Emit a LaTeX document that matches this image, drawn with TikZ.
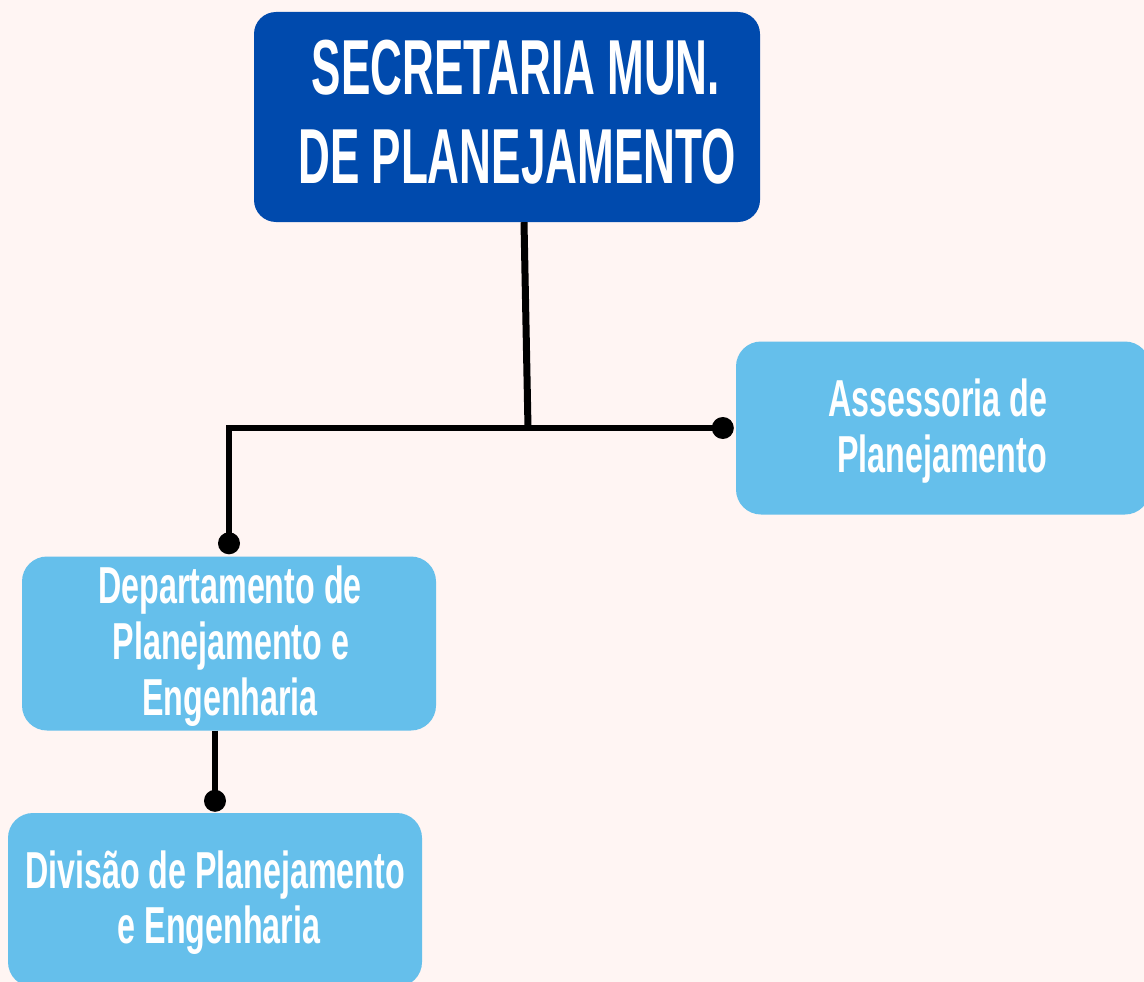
\documentclass[tikz,border=0pt]{standalone}
\usepackage{fontspec}
\newfontfamily\bigcond[FakeStretch=0.565]{Liberation Sans}
\newfontfamily\smallcond[FakeStretch=0.62]{Liberation Sans}
\definecolor{bgpink}{HTML}{FFF5F3}
\definecolor{darkblue}{HTML}{004AAD}
\definecolor{lightblue}{HTML}{65BFEB}
\tikzset{
  darkbox/.style={draw=none, fill=darkblue, rounded corners=22pt, rectangle, inner sep=0pt},
  lightbox/.style={draw=none, fill=lightblue, rounded corners=25pt, rectangle, inner sep=0pt, minimum width=414pt, minimum height=174pt},
  bigtext/.style={anchor=base, inner sep=0pt, text=white, font=\bigcond\bfseries\fontsize{78}{85}\selectfont},
  smalltext/.style={anchor=base, inner sep=0pt, text=white, font=\smallcond\bfseries\fontsize{52}{56}\selectfont},
  conn/.style={draw=black, line width=6pt},
  dotfill/.style={fill=black}
}
\begin{document}
\begin{tikzpicture}[x=1pt,y=-1pt]
\fill[bgpink] (0,0) rectangle (1144,982);
\useasboundingbox (0,0) rectangle (1144,982);

% boxes
\node[darkbox, minimum width=506pt, minimum height=210pt] (sec) at (507,117) {};
\node[lightbox, minimum height=173pt] (ass) at (943,428) {};
\node[lightbox] (dep) at (229,643.5) {};
\node[lightbox] (div) at (215,900) {};

% texts
\node[bigtext] (sec1) at (516,95) {SECRETARIA MUN.};
\node[bigtext] (sec2) at (517,183) {DE PLANEJAMENTO};
\node[smalltext] (ass1) at (938,416) {Assessoria de};
\node[smalltext] (ass2) at (942,472) {Planejamento};
\node[smalltext] (dep1) at (230,603) {Departamento de};
\node[smalltext] (dep2) at (231,659) {Planejamento e};
\node[smalltext] (dep3) at (230,715) {Engenharia};
\node[smalltext] (div1) at (215,888) {Divisão de Planejamento};
\node[smalltext] (div2) at (219,943) {e Engenharia};

% connector points
\coordinate (j) at (528,428);
\coordinate (jl) at (229,428);
\coordinate (dotass) at ([xshift=-13pt]ass.west);
\coordinate (dotdep) at ([yshift=13pt]dep.north);
\coordinate (dotdiv) at ([yshift=12pt]div.north);

% connectors
\draw[conn, line width=7pt] ([xshift=17pt]sec.south) -- (j);
\draw[conn, line cap=rect] (dotdep) -- (jl) -- (dotass);
\draw[conn] ([xshift=-14pt]dep.south) -- (dotdiv);

% dots
\fill[dotfill] (dotass) circle (11pt);
\fill[dotfill] (dotdep) circle (11pt);
\fill[dotfill] (dotdiv) circle (11pt);
\end{tikzpicture}
\end{document}
